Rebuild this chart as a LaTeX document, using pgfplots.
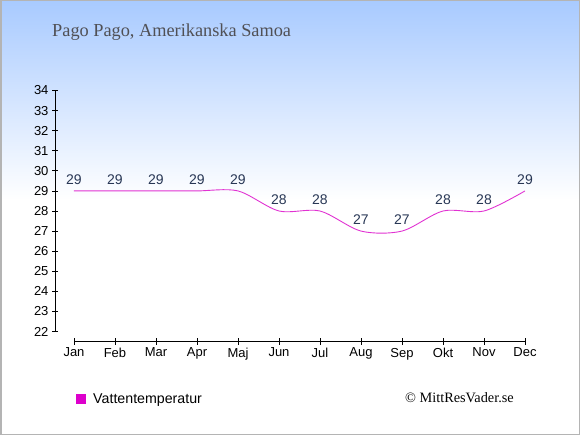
\documentclass[border=0pt]{standalone}
\usepackage{pgfplots}
\pgfplotsset{compat=1.18}
\usepackage{fontspec}
\setmainfont{Liberation Sans}
\newfontfamily\seriffont{Liberation Serif}
\definecolor{bgtop}{RGB}{168,202,255}
\definecolor{linec}{RGB}{225,50,210}
\definecolor{legc}{RGB}{221,0,204}
\definecolor{lblc}{RGB}{40,55,85}
\definecolor{titlec}{RGB}{80,80,85}
\definecolor{bord}{RGB}{180,180,180}
\begin{document}
\begin{tikzpicture}
\useasboundingbox (0,0) rectangle (580bp,435bp);
\fill[white] (0,0) rectangle (580bp,435bp);
\shade[top color=bgtop, bottom color=white] (0,235bp) rectangle (580bp,435bp);
\draw[bord, line width=1.5bp] (0.75bp,0.75bp) rectangle (579.25bp,434.25bp);
\node[anchor=base west, font=\seriffont\fontsize{18.3bp}{21bp}\selectfont, text=titlec, inner sep=0] at (52bp,398bp) {Pago Pago, Amerikanska Samoa};
\node[anchor=west, font=\seriffont\fontsize{14.3bp}{16bp}\selectfont, text=black, inner sep=0] at (405bp,37bp) {© MittResVader.se};
\begin{axis}[
  at={(55bp,93.5bp)}, anchor=south west,
  width=470bp, height=251bp, scale only axis,
  xmin=-0.463, xmax=11, ymin=21.502, ymax=34,
  axis line style={draw=none},
  xtick={0,...,11},
  xticklabels={Jan,Feb,Mar,Apr,Maj,Jun,Jul,Aug,Sep,Okt,Nov,Dec},
  ytick={22,...,34},
  tick align=center,
  major tick length=6bp,
  tick style={black, line width=0.8bp},
  xtick pos=bottom, ytick pos=left,
  /pgf/number format/assume math mode=true,
  ticklabel style={font=\fontsize{13bp}{15bp}\selectfont, text=black},
  clip=false,
  legend style={at={(axis description cs:0.045,-0.229)}, anchor=west, draw=none, fill=none, font=\fontsize{14.2bp}{16bp}\selectfont, inner sep=0pt},
  legend image code/.code={\fill[legc] (0bp,-4.5bp) rectangle (9bp,4.5bp);},
  legend cell align=left,
  legend style={nodes={inner sep=0pt}, /tikz/every even column/.append style={column sep=0pt}},
]
\draw[black, line width=0.8bp] (axis cs:-0.463,22) -- (axis cs:-0.463,34);
\draw[black, line width=0.8bp] (axis cs:0,21.502) -- (axis cs:11,21.502);
\addplot[color=linec, line width=0.9bp, smooth, tension=0.5,
  nodes near coords, every node near coord/.append style={anchor=south, yshift=3bp, text=lblc, font=\fontsize{14bp}{16bp}\selectfont}]
  coordinates {(0,29) (1,29) (2,29) (3,29) (4,29) (5,28) (6,28) (7,27) (8,27) (9,28) (10,28) (11,29)};
\addlegendentry{\hspace{7bp}Vattentemperatur}
\end{axis}
\end{tikzpicture}
\end{document}
